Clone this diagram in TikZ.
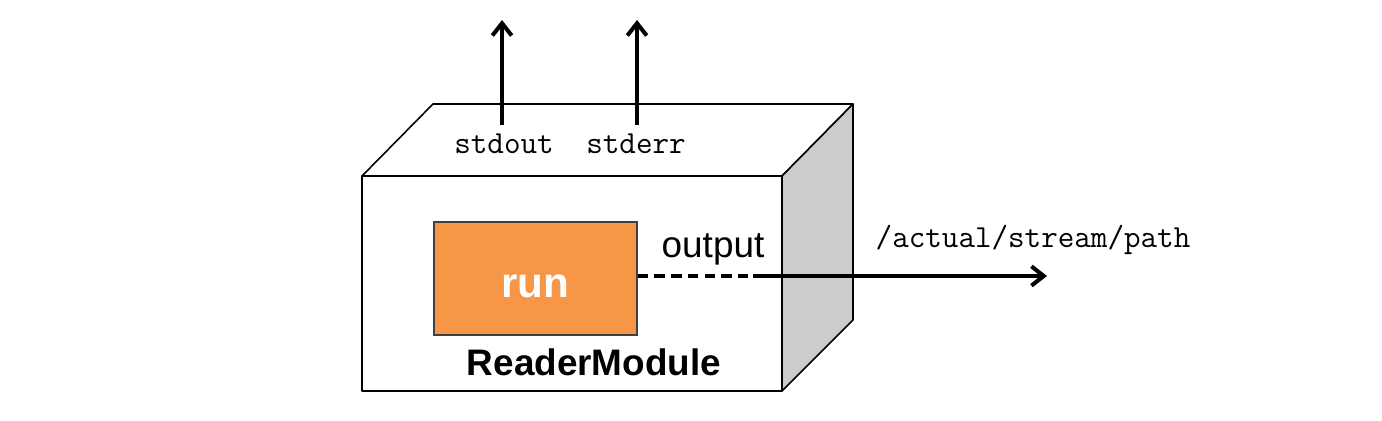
\documentclass[tikz,border=0pt]{standalone}
\usepackage{fontspec}
\setmainfont{Liberation Sans}
\usetikzlibrary{arrows.meta}
\usetikzlibrary{positioning}
\definecolor{runorange}{HTML}{F79646}
\definecolor{sidegray}{HTML}{CCCCCC}
\tikzset{flow/.style = {line width=2.3pt, -{Straight Barb[length=7pt,width=11pt,line width=2.3pt]}}}
\tikzset{streamlabel/.style = {font=\ttfamily\fontsize{18.3}{20}\selectfont, anchor=base, inner sep=0}}
\tikzset{face/.style = {line width=0.9pt, line join=round}}

\begin{document}
\begin{tikzpicture}[x=0.02cm,y=-0.02cm]
    \useasboundingbox (0,0) rectangle (1382,421);
    % the module as a box
    \filldraw [face, fill=white] (362,176) rectangle (782,391);
    \filldraw [face, fill=white] (362,176) -- (433,104) -- (853,104) -- (782,176) -- cycle;
    \filldraw [face, fill=sidegray] (782,176) -- (853,104) -- (853,320) -- (782,391) -- cycle;
    \node [anchor=base, font=\bfseries\fontsize{21}{24}\selectfont] (module) at (594,376) {ReaderModule};
    \node [fill=runorange, draw=black!75, line width=0.9pt, minimum width=4.06cm, minimum height=2.26cm, text height=0.78cm, text depth=0pt, text=white, font=\bfseries\fontsize{24}{28}\selectfont] (run) at (535.5,278.5) {run};
    % streams
    \node [streamlabel] (stdout) at (504,154) {stdout};
    \node [streamlabel] (stderr) at (636,154) {stderr};
    \coordinate (stdoutend) at (502,20);
    \coordinate (stderrend) at (637,20);
    \draw [flow] ([yshift=5pt]stdout.north -| stdoutend) -- (stdoutend);
    \draw [flow] ([yshift=5pt]stderr.north -| stderrend) -- (stderrend);
    \node [anchor=base, font=\fontsize{21}{24}\selectfont, inner sep=0] (output) at (713,258) {output};
    \coordinate (outbreak) at (753,276);
    \coordinate (pathend) at (1047,276);
    \draw [line width=2.3pt, dash pattern=on 6pt off 3.5pt] (run.east |- outbreak) -- (outbreak);
    \draw [flow] (outbreak) -- (pathend);
    \node [streamlabel] (path) at (1033,248) {/actual/stream/path};
\end{tikzpicture}
\end{document}
